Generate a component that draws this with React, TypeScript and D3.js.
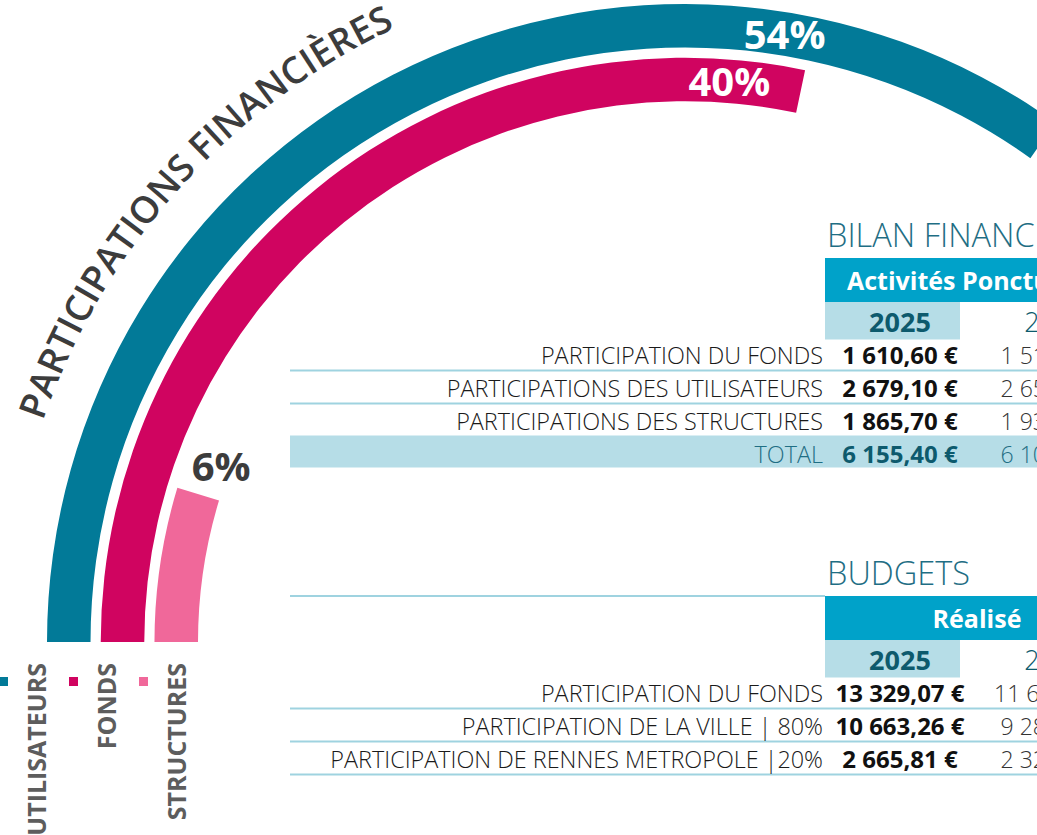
import React from "react";
import * as d3 from "d3";

// ---------- data ----------
const SERIES = ["UTILISATEURS", "FONDS", "STRUCTURES"];
const SHARES = [54, 40, 6];
const COLORS = ["#027A98", "#D00460", "#F0689A"];
const CHART_TITLE = "PARTICIPATIONS FINANCIÈRES";

const BILAN_TITLE = "BILAN FINANCIER";
const BILAN_HEADER = "Activités Ponctuelles";
const BILAN_LABELS = [
  "PARTICIPATION DU FONDS",
  "PARTICIPATIONS DES UTILISATEURS",
  "PARTICIPATIONS DES STRUCTURES",
];
const BILAN_2025 = [1610.6, 2679.1, 1865.7];
const BILAN_2024 = [1515.2, 2655.4, 1934.8];

const BUDGET_TITLE = "BUDGETS";
const BUDGET_HEADER = "Réalisé";
const BUDGET_LABELS = [
  "PARTICIPATION DU FONDS",
  "PARTICIPATION DE LA VILLE | 80%",
  "PARTICIPATION DE RENNES METROPOLE |20%",
];
const BUDGET_2025 = [13329.07, 10663.26, 2665.81];
const BUDGET_2024 = [11604.0, 9283.2, 2320.8];

const YEARS = ["2025", "2024"];
const TOTAL_LABEL = "TOTAL";

// ---------- style ----------
const W = 1037;
const H = 835;
const CX = 685;
const CY = 642;
const DARK_HEAD = "#00A2C9";
const LIGHT = "#B6DDE7";
const LINE = "#9FD3E0";
const TEAL_TXT = "#1F6E84";
const YEAR_TXT = "#0D5A6D";
const FONT = "'Open Sans', 'Noto Sans', sans-serif";

const fr = d3.formatLocale({
  decimal: ",",
  thousands: "\u00a0",
  grouping: [3],
  currency: ["", "\u00a0€"],
});
const fmt = fr.format("$,.2f");

const ringScale = d3
  .scaleBand<string>()
  .domain([...SERIES].reverse())
  .range([487, 638])
  .paddingInner(0.19);
const arcLen = d3.scaleLinear().domain([0, 100]).range([0, 2500]);
const LABEL_BACK = [282, 72];

type TableProps = {
  top: number;
  title: string;
  header: string;
  labels: string[];
  v1: number[];
  v2: number[];
  withTotal: boolean;
  topLine: boolean;
};

const COL1 = 900;
const COL2 = 1055;
const LABEL_END = 823;
const ROW = 33;

function Table({ top, title, header, labels, v1, v2, withTotal, topLine }: TableProps) {
  const headH = 44;
  const yearH = 37.5;
  const rowsTop = top + headH + yearH;
  const base = (i: number) => rowsTop + 24 + i * ROW;
  const lineY = (i: number) => rowsTop + 31 + i * ROW;
  const nLines = withTotal ? labels.length - 1 : labels.length;
  return (
    <g>
      <text x={827} y={top - 11} fontFamily={FONT} fontWeight={300} fontSize={32.5} fill={TEAL_TXT}>
        {title}
      </text>
      {topLine && <line x1={290} x2={825} y1={top} y2={top} stroke={LINE} strokeWidth={2} />}
      <rect x={825} y={top} width={400} height={headH} fill={DARK_HEAD} />
      <text x={977} y={top + 32} textAnchor="middle" fontFamily={FONT} fontWeight={700} fontSize={25} fill="#fff">
        {header}
      </text>
      <rect x={825} y={top + headH} width={135} height={yearH} fill={LIGHT} />
      <text x={COL1} y={top + headH + 30} textAnchor="middle" fontFamily={FONT} fontWeight={700} fontSize={27} fill={YEAR_TXT}>
        {YEARS[0]}
      </text>
      <text x={COL2} y={top + headH + 30} textAnchor="middle" fontFamily={FONT} fontWeight={300} fontSize={27} fill={YEAR_TXT}>
        {YEARS[1]}
      </text>
      {d3.range(nLines).map((i) => (
        <line key={"l" + i} x1={290} x2={W} y1={lineY(i)} y2={lineY(i)} stroke={LINE} strokeWidth={2} />
      ))}
      {withTotal && (
        <rect x={290} y={lineY(labels.length - 1) - 1} width={W - 290} height={32} fill={LIGHT} />
      )}
      {labels.map((lab, i) => (
        <g key={"r" + i}>
          <text x={LABEL_END} y={base(i)} textAnchor="end" fontFamily={FONT} fontWeight={300} fontSize={23.4} fill="#1a1a1a">
            {lab}
          </text>
          <text x={COL1} y={base(i)} textAnchor="middle" fontFamily={FONT} fontWeight={700} fontSize={24} fill="#111">
            {fmt(v1[i])}
          </text>
          <text x={COL2} y={base(i)} textAnchor="middle" fontFamily={FONT} fontWeight={300} fontSize={23} fill="#333">
            {fmt(v2[i])}
          </text>
        </g>
      ))}
      {withTotal && (
        <g>
          <text x={LABEL_END} y={base(labels.length)} textAnchor="end" fontFamily={FONT} fontWeight={300} fontSize={23.4} fill={TEAL_TXT}>
            {TOTAL_LABEL}
          </text>
          <text x={COL1} y={base(labels.length)} textAnchor="middle" fontFamily={FONT} fontWeight={700} fontSize={24} fill={YEAR_TXT}>
            {fmt(d3.sum(v1))}
          </text>
          <text x={COL2} y={base(labels.length)} textAnchor="middle" fontFamily={FONT} fontWeight={300} fontSize={23} fill={TEAL_TXT}>
            {fmt(d3.sum(v2))}
          </text>
        </g>
      )}
    </g>
  );
}

export default function App() {
  const rings = SERIES.map((s, i) => {
    const inner = ringScale(s)!;
    const outer = inner + ringScale.bandwidth();
    const mid = (inner + outer) / 2;
    const start = -Math.PI / 2;
    const end = start + arcLen(SHARES[i]) / mid;
    const path = d3.arc()({
      innerRadius: inner,
      outerRadius: outer,
      startAngle: start,
      endAngle: end,
    } as any) as string;
    return { s, i, inner, outer, mid, start, end, path };
  });

  const titleR = 679;
  const tp = d3.path();
  tp.arc(CX, CY, titleR, Math.PI + (19.0 * Math.PI) / 180, 1.5 * Math.PI + 0.6, false);

  return (
    <svg
      width={W}
      height={H}
      style={{ position: "absolute", left: 0, top: 0, background: "#fff" }}
    >
      <defs>
        <path id="titlePath" d={tp.toString()} />
      </defs>
      <text fontFamily={FONT} fontWeight={600} fontSize={37} fill="#3C3C3C">
        <textPath href="#titlePath" startOffset={0} textLength={542} lengthAdjust="spacingAndGlyphs">
          {CHART_TITLE}
        </textPath>
      </text>

      <g transform={`translate(${CX},${CY})`}>
        {rings.map((r) => (
          <path key={r.s} d={r.path} fill={COLORS[r.i]} />
        ))}
        {rings.map((r) => {
          if (r.i < LABEL_BACK.length) {
            const a = r.end - LABEL_BACK[r.i] / r.mid;
            const x = r.mid * Math.sin(a);
            const y = -r.mid * Math.cos(a);
            return (
              <text key={"p" + r.s} x={x} y={y + 15} textAnchor="middle" fontFamily={FONT} fontWeight={700} fontSize={40} fill="#fff">
                {SHARES[r.i]}%
              </text>
            );
          }
          const x = r.mid * Math.sin(r.end);
          const y = -r.mid * Math.cos(r.end);
          return (
            <text key={"p" + r.s} x={x + 23} y={y - 13} textAnchor="middle" fontFamily={FONT} fontWeight={700} fontSize={40} fill="#3C3C3C">
              {SHARES[r.i]}%
            </text>
          );
        })}
      </g>

      {SERIES.map((s, i) => (
        <g key={"lg" + s}>
          <rect x={-1 + 70 * i} y={677} width={9} height={9} fill={COLORS[i]} />
          <text
            transform={`translate(${46 + 70 * i},663) rotate(-90)`}
            textAnchor="end"
            fontFamily={FONT}
            fontWeight={700}
            fontSize={25}
            fill="#5D5D5D"
          >
            {s}
          </text>
        </g>
      ))}

      <Table top={258} title={BILAN_TITLE} header={BILAN_HEADER} labels={BILAN_LABELS} v1={BILAN_2025} v2={BILAN_2024} withTotal={true} topLine={false} />
      <Table top={596} title={BUDGET_TITLE} header={BUDGET_HEADER} labels={BUDGET_LABELS} v1={BUDGET_2025} v2={BUDGET_2024} withTotal={false} topLine={true} />
    </svg>
  );
}
